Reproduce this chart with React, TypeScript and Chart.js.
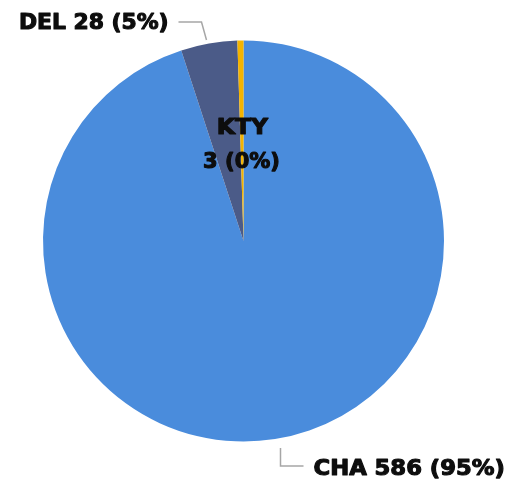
import React, { useEffect, useRef } from "react";
import { Chart, registerables } from "chart.js";

Chart.register(...registerables);

const categories = ["CHA", "DEL", "KTY"];
const values = [586, 28, 3];
const colors = ["#4a8cdc", "#4b5b88", "#f4b400"];

const labelPlugin = {
  id: "pieLabels",
  afterDatasetsDraw(chart: any) {
    const ctx = chart.ctx as CanvasRenderingContext2D;
    const meta = chart.getDatasetMeta(0);
    const total = values.reduce((a, b) => a + b, 0);
    const pct = (i: number) => Math.round((values[i] / total) * 100);
    const txt = (i: number) => `${categories[i]} ${values[i]} (${pct(i)}%)`;
    ctx.save();
    ctx.font = "bold 21px 'DejaVu Sans'";
    ctx.fillStyle = "#0d0d0d";
    ctx.textBaseline = "middle";
    const arc0 = meta.data[0];
    const cx = arc0.x;
    const cy = arc0.y;

    const drawScaled = (s: string, x: number, y: number, align: CanvasTextAlign, sx: number) => {
      ctx.save();
      ctx.translate(x, y);
      ctx.scale(sx, 1);
      ctx.textAlign = align;
      ctx.strokeStyle = "#0d0d0d";
      ctx.lineWidth = 1.1;
      ctx.lineJoin = "round";
      ctx.strokeText(s, 0, 0);
      ctx.fillText(s, 0, 0);
      ctx.restore();
    };

    ctx.strokeStyle = "#a6a6a6";
    ctx.lineWidth = 1.5;
    // CHA leader + label
    ctx.beginPath();
    ctx.moveTo(cx + 37, cy + 207);
    ctx.lineTo(cx + 37, cy + 225);
    ctx.lineTo(cx + 60, cy + 225);
    ctx.stroke();
    drawScaled(txt(0), cx + 70, cy + 229, "left", 1.08);
    // DEL leader + label
    ctx.strokeStyle = "#a6a6a6";
    ctx.lineWidth = 1.5;
    ctx.beginPath();
    ctx.moveTo(cx - 37, cy - 201);
    ctx.lineTo(cx - 42, cy - 219);
    ctx.lineTo(cx - 65, cy - 219);
    ctx.stroke();
    drawScaled(txt(1), cx - 75, cy - 217, "right", 1.04);
    // KTY inside
    drawScaled(categories[2], cx - 1, cy - 112, "center", 1.12);
    drawScaled(`${values[2]} (${pct(2)}%)`, cx - 2, cy - 78, "center", 1.0);
    ctx.restore();
  },
};

export default function App() {
  const ref = useRef<HTMLCanvasElement>(null);
  useEffect(() => {
    document.body.style.margin = "0";
    document.body.style.background = "#ffffff";
    const chart = new Chart(ref.current!, {
      type: "pie",
      data: {
        labels: categories,
        datasets: [
          {
            data: values,
            backgroundColor: colors,
            borderWidth: 0,
          },
        ],
      },
      options: {
        responsive: false,
        animation: false,
        layout: { padding: { left: 43, right: 66, top: 40, bottom: 40 } },
        plugins: { legend: { display: false }, tooltip: { enabled: false } },
      },
      plugins: [labelPlugin],
    });
    return () => chart.destroy();
  }, []);
  return <canvas ref={ref} width={510} height={482} style={{ display: "block" }} />;
}
